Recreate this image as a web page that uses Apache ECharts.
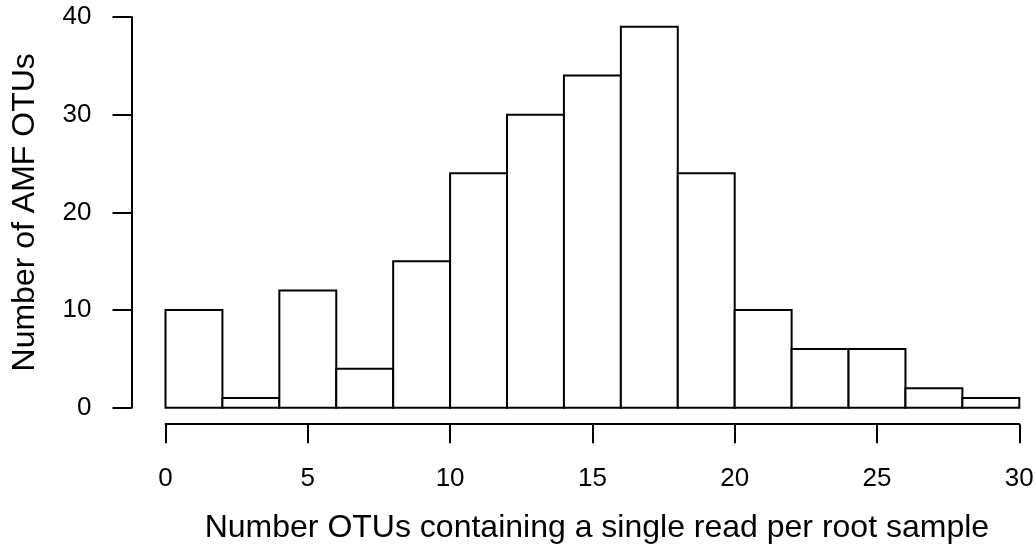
<!DOCTYPE html>
<html>
<head>
<meta charset="utf-8">
<script src="https://cdn.jsdelivr.net/npm/echarts@6/dist/echarts.min.js"></script>
<style>
  html, body { margin: 0; padding: 0; background: #fff; }
  #chart { width: 1036px; height: 544px; }
</style>
</head>
<body>
<div id="chart"></div>
<script>
// Histogram bin edges (lower bounds) and counts
const binStarts = [0, 2, 4, 6, 8, 10, 12, 14, 16, 18, 20, 22, 24, 26, 28];
const binWidth = 2;
const counts = [10, 1, 12, 4, 15, 24, 30, 34, 39, 24, 10, 6, 6, 2, 1];
const xTicks = [0, 5, 10, 15, 20, 25, 30];
const yTicks = [0, 10, 20, 30, 40];

const xTitle = 'Number OTUs containing a single read per root sample';
const yTitle = 'Number of AMF OTUs';

const bins = binStarts.map((s, i) => [s, s + binWidth, counts[i]]);

const font = '"Liberation Sans", Arial, Helvetica, sans-serif';
const chart = echarts.init(document.getElementById('chart'), null, { renderer: 'canvas' });

chart.setOption({
  animation: false,
  backgroundColor: '#ffffff',
  grid: { left: 165.5, right: 16.7, top: 17, bottom: 136.3, outerBoundsMode: 'none', containLabel: false },
  xAxis: {
    type: 'value',
    min: xTicks[0],
    max: xTicks[xTicks.length - 1],
    interval: 5,
    offset: 16.5,
    splitLine: { show: false },
    axisLine: { show: true, onZero: false, lineStyle: { color: '#000', width: 2 } },
    axisTick: { show: true, length: 19, lineStyle: { color: '#000', width: 2 } },
    axisLabel: { color: '#000', fontSize: 26, fontFamily: font, margin: 42 },
    name: xTitle,
    nameLocation: 'middle',
    nameGap: 88,
    nameTextStyle: { color: '#000', fontSize: 32, fontFamily: font, padding: [0, 0, 0, 9] }
  },
  yAxis: {
    type: 'value',
    min: yTicks[0],
    max: yTicks[yTicks.length - 1],
    interval: 10,
    offset: 34,
    splitLine: { show: false },
    axisLine: { show: true, onZero: false, lineStyle: { color: '#000', width: 2 } },
    axisTick: { show: true, length: 19, lineStyle: { color: '#000', width: 2 } },
    axisLabel: { color: '#000', fontSize: 26, fontFamily: font, margin: 40 },
    name: yTitle,
    nameLocation: 'middle',
    nameGap: 90,
    nameRotate: 90,
    nameTextStyle: { color: '#000', fontSize: 32, fontFamily: font }
  },
  series: [{
    type: 'custom',
    data: bins,
    encode: { x: [0, 1], y: 2 },
    renderItem: function (params, api) {
      const p0 = api.coord([api.value(0), 0]);
      const p1 = api.coord([api.value(1), api.value(2)]);
      return {
        type: 'rect',
        shape: { x: p0[0], y: p1[1], width: p1[0] - p0[0], height: p0[1] - p1[1] },
        style: { fill: '#ffffff', stroke: '#000000', lineWidth: 2 }
      };
    }
  }]
});
</script>
</body>
</html>
